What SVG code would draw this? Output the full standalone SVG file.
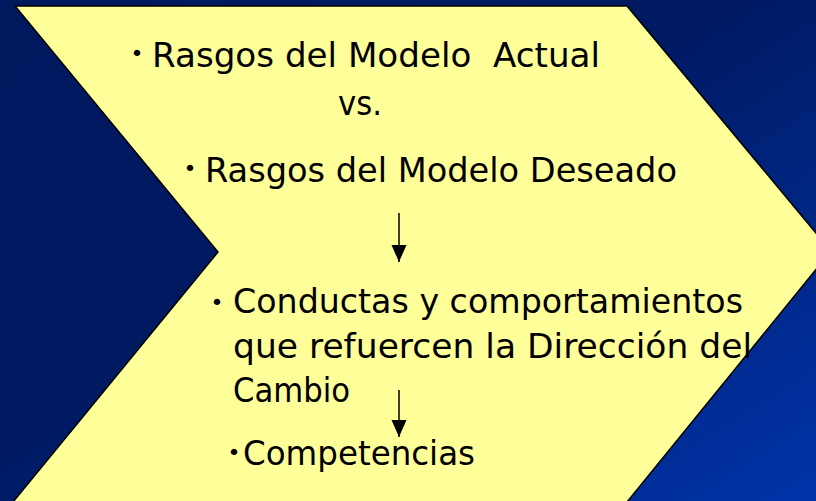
<svg xmlns="http://www.w3.org/2000/svg" width="816" height="501" viewBox="0 0 816 501">
  <defs>
    <linearGradient id="bg" x1="0" y1="0" x2="1" y2="1">
      <stop offset="0" stop-color="#00185e"/>
      <stop offset="0.45" stop-color="#001a62"/>
      <stop offset="1" stop-color="#0034aa"/>
    </linearGradient>
    <marker id="arr" markerWidth="18" markerHeight="16" refX="17" refY="8" orient="auto" markerUnits="userSpaceOnUse" viewBox="0 0 18 16">
      <path d="M0,0.5 L17,8 L0,15.5 Z" fill="#000"/>
    </marker>
    <style>
      .t { font-family: "DejaVu Sans", "Liberation Sans", sans-serif; font-size: 34px; fill: #000; }
      .b { font-family: "DejaVu Sans", "Liberation Sans", sans-serif; font-size: 22px; fill: #000; }
      .edge { stroke: #000; stroke-width: 1.5; fill: none; }
    </style>
  </defs>
  <rect x="0" y="0" width="816" height="501" fill="url(#bg)"/>
  <g id="chevron">
    <polygon points="15,6 627,6 831,251 627,502 13,502 218,252" fill="#ffff99" stroke="#000" stroke-width="1.5" stroke-linejoin="miter"/>
  </g>
  <g id="node-actual">
    <text class="b" x="137" y="61" text-anchor="middle">•</text>
    <text class="t" x="152" y="67" textLength="448" lengthAdjust="spacingAndGlyphs" xml:space="preserve">Rasgos del Modelo  Actual</text>
  </g>
  <g id="node-vs">
    <text class="t" x="338" y="115" textLength="44" lengthAdjust="spacingAndGlyphs">vs.</text>
  </g>
  <g id="node-deseado">
    <text class="b" x="190" y="176" text-anchor="middle">•</text>
    <text class="t" x="205" y="182" textLength="472" lengthAdjust="spacingAndGlyphs">Rasgos del Modelo Deseado</text>
  </g>
  <g id="node-conductas">
    <text class="b" x="217" y="310" text-anchor="middle">•</text>
    <text class="t" x="233" y="313" textLength="510" lengthAdjust="spacingAndGlyphs">Conductas y comportamientos</text>
    <text class="t" x="233" y="358" textLength="519" lengthAdjust="spacingAndGlyphs">que refuercen la Dirección del</text>
    <text class="t" x="233" y="402" textLength="117" lengthAdjust="spacingAndGlyphs">Cambio</text>
  </g>
  <g id="node-competencias">
    <text class="b" x="234" y="460" text-anchor="middle">•</text>
    <text class="t" x="243" y="465" textLength="232" lengthAdjust="spacingAndGlyphs">Competencias</text>
  </g>
  <g id="connectors">
    <line class="edge" x1="399" y1="213" x2="399" y2="262" marker-end="url(#arr)"/>
    <line class="edge" x1="399" y1="390" x2="399" y2="437" marker-end="url(#arr)"/>
  </g>
</svg>
